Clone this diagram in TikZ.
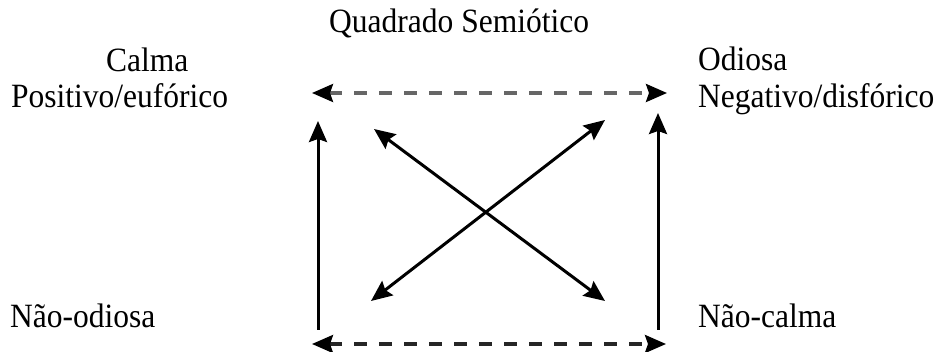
\documentclass[tikz,border=0pt]{standalone}
\usepackage{fontspec}
\setmainfont{Liberation Serif}
\usetikzlibrary{arrows.meta}
\newcommand{\tallt}[1]{\scalebox{1}[1.08]{#1}}
\begin{document}
\begin{tikzpicture}[x=1pt,y=-1pt,
  lbl/.style={anchor=base west,inner sep=0pt,font=\fontsize{31.5}{36}\selectfont},
  solidarr/.style={line width=3pt,black,-{Stealth[length=21pt,width=18pt,inset=3pt]}},
  dblarr/.style={line width=3pt,black,{Stealth[length=21pt,width=18pt,inset=3pt]}-{Stealth[length=21pt,width=18pt,inset=3pt]}},
  dasharr/.style={line width=3.2pt,dash pattern=on 13pt off 12pt,{Stealth[length=21pt,width=18pt,inset=3pt,color=black]}-{Stealth[length=21pt,width=18pt,inset=3pt,color=black]}}]
\useasboundingbox (0,0) rectangle (940,352);
% labels
\node[lbl] (title) at (329,33) {\tallt{Quadrado Semiótico}};
\node[lbl] (calma) at (106,72) {\tallt{Calma}};
\node[lbl] (pos) at (11,108) {\tallt{Positivo/eufórico}};
\node[lbl] (odiosa) at (698,71) {\tallt{Odiosa}};
\node[lbl] (neg) at (698,108) {\tallt{Negativo/disfórico}};
\node[lbl] (naood) at (10,328) {\tallt{Não-odiosa}};
\node[lbl] (naoca) at (698,328) {\tallt{Não-calma}};
% end points
\coordinate (tl) at (312,93);
\coordinate (tr) at (667,93);
\coordinate (bl) at (312,344);
\coordinate (br) at (666,344);
\coordinate (lb) at (318,330);
\coordinate (lt) at (318,121);
\coordinate (rb) at (658,330);
\coordinate (rt) at (658,113);
\coordinate (d1a) at (374,129);
\coordinate (d1b) at (605,301);
\coordinate (d2a) at (605,120);
\coordinate (d2b) at (371,301);
% connectors
\draw[dasharr,black!60] (tl) -- (tr);
\draw[dasharr,black!85] (bl) -- (br);
\draw[solidarr] (lb) -- (lt);
\draw[solidarr] (rb) -- (rt);
\draw[dblarr] (d1a) -- (d1b);
\draw[dblarr] (d2a) -- (d2b);
\end{tikzpicture}
\end{document}
